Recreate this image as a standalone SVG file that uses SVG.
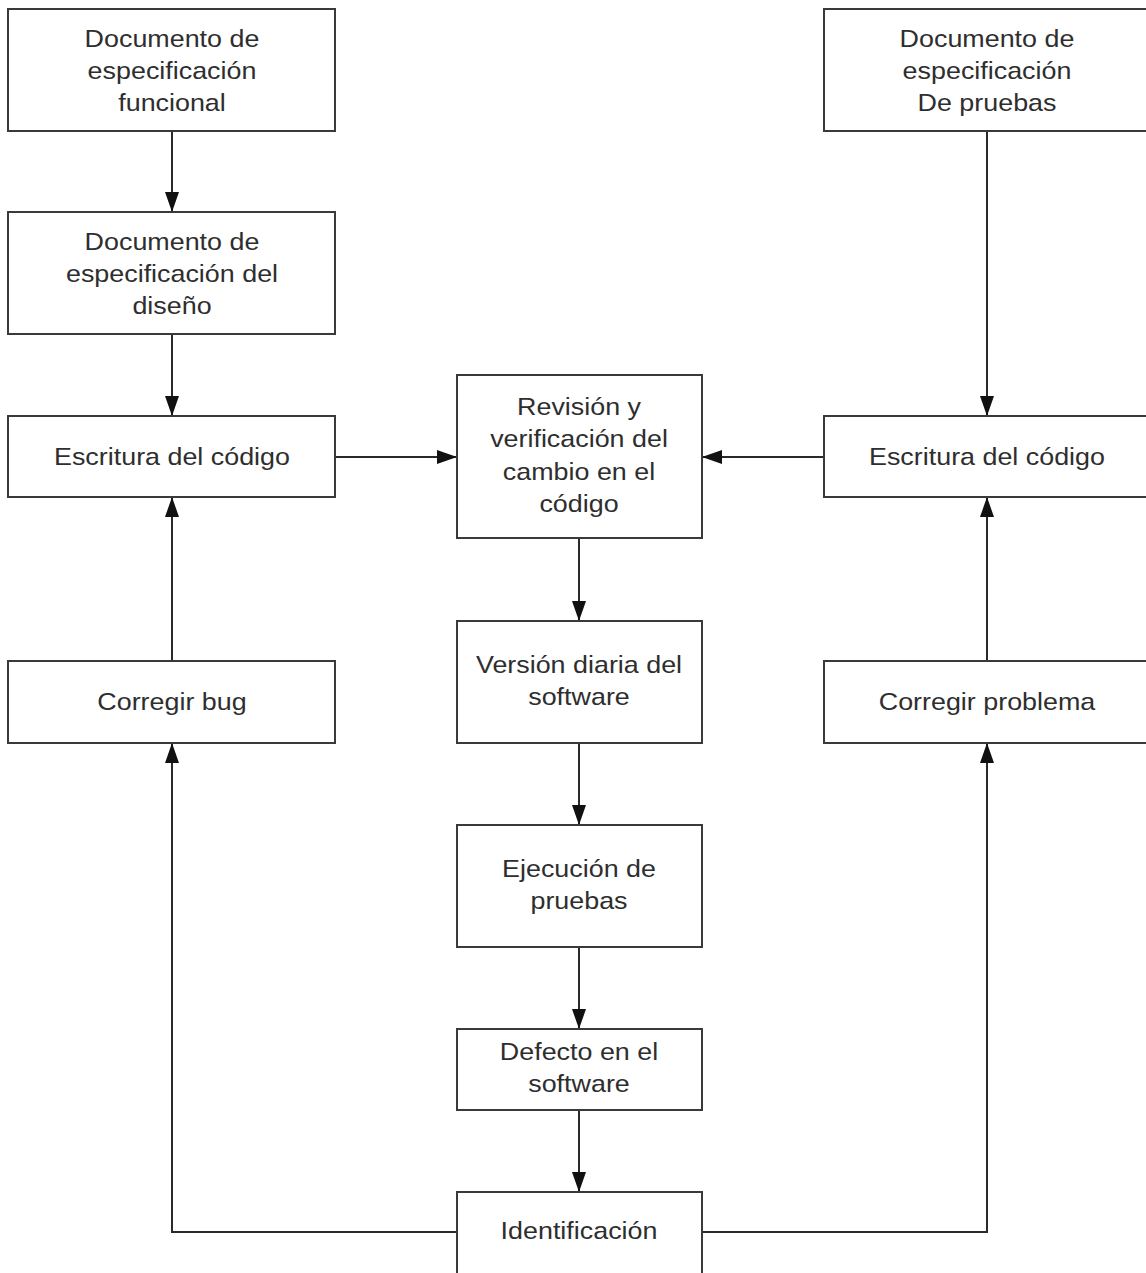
<svg xmlns="http://www.w3.org/2000/svg" width="1146" height="1273" viewBox="0 0 1146 1273">
<style>
.box{fill:#fff;stroke:#3a3a3a;stroke-width:2}
.t{font-family:"Liberation Sans",Arial,sans-serif;font-size:24px;fill:#2e2e2e;text-anchor:middle}
.c{fill:none;stroke:#2a2a2a;stroke-width:2}
</style>
<defs>
<marker id="ah" viewBox="0 0 20 14" refX="20" refY="7" markerWidth="20" markerHeight="14" markerUnits="userSpaceOnUse" orient="auto">
<path d="M0,0 L20,7 L0,14 Z" fill="#111"/>
</marker>
</defs>
<rect width="1146" height="1273" fill="#fff"/>
<g id="connectors">
<line class="c" x1="172" y1="131" x2="172" y2="212" marker-end="url(#ah)"/>
<line class="c" x1="172" y1="334" x2="172" y2="416" marker-end="url(#ah)"/>
<line class="c" x1="335" y1="457" x2="457" y2="457" marker-end="url(#ah)"/>
<line class="c" x1="824" y1="457" x2="702" y2="457" marker-end="url(#ah)"/>
<line class="c" x1="987" y1="131" x2="987" y2="416" marker-end="url(#ah)"/>
<line class="c" x1="172" y1="661" x2="172" y2="497" marker-end="url(#ah)"/>
<line class="c" x1="987" y1="661" x2="987" y2="497" marker-end="url(#ah)"/>
<line class="c" x1="579" y1="538" x2="579" y2="621" marker-end="url(#ah)"/>
<line class="c" x1="579" y1="743" x2="579" y2="825" marker-end="url(#ah)"/>
<line class="c" x1="579" y1="947" x2="579" y2="1029" marker-end="url(#ah)"/>
<line class="c" x1="579" y1="1110" x2="579" y2="1192" marker-end="url(#ah)"/>
<polyline class="c" points="457,1232 172,1232 172,743" marker-end="url(#ah)"/>
<polyline class="c" points="702,1232 987,1232 987,743" marker-end="url(#ah)"/>
</g>
<g id="doc-funcional">
<rect class="box" x="8" y="9" width="327" height="122"/>
<g transform="translate(172,0) scale(1.12,1)"><text class="t" x="0" y="47">Documento de</text><text class="t" x="0" y="79">especificación</text><text class="t" x="0" y="111">funcional</text></g>
</g>
<g id="doc-diseno">
<rect class="box" x="8" y="212" width="327" height="122"/>
<g transform="translate(172,0) scale(1.12,1)"><text class="t" x="0" y="250">Documento de</text><text class="t" x="0" y="282">especificación del</text><text class="t" x="0" y="314">diseño</text></g>
</g>
<g id="escritura-izq">
<rect class="box" x="8" y="416" width="327" height="81"/>
<g transform="translate(172,0) scale(1.12,1)"><text class="t" x="0" y="465">Escritura del código</text></g>
</g>
<g id="corregir-bug">
<rect class="box" x="8" y="661" width="327" height="82"/>
<g transform="translate(172,0) scale(1.12,1)"><text class="t" x="0" y="710">Corregir bug</text></g>
</g>
<g id="doc-pruebas">
<rect class="box" x="824" y="9" width="330" height="122"/>
<g transform="translate(987,0) scale(1.12,1)"><text class="t" x="0" y="47">Documento de</text><text class="t" x="0" y="79">especificación</text><text class="t" x="0" y="111">De pruebas</text></g>
</g>
<g id="escritura-der">
<rect class="box" x="824" y="416" width="330" height="81"/>
<g transform="translate(987,0) scale(1.12,1)"><text class="t" x="0" y="465">Escritura del código</text></g>
</g>
<g id="corregir-problema">
<rect class="box" x="824" y="661" width="330" height="82"/>
<g transform="translate(987,0) scale(1.12,1)"><text class="t" x="0" y="710">Corregir problema</text></g>
</g>
<g id="revision">
<rect class="box" x="457" y="375" width="245" height="163"/>
<g transform="translate(579,0) scale(1.12,1)"><text class="t" x="0" y="415">Revisión y</text><text class="t" x="0" y="447">verificación del</text><text class="t" x="0" y="480">cambio en el</text><text class="t" x="0" y="512">código</text></g>
</g>
<g id="version">
<rect class="box" x="457" y="621" width="245" height="122"/>
<g transform="translate(579,0) scale(1.12,1)"><text class="t" x="0" y="673">Versión diaria del</text><text class="t" x="0" y="705">software</text></g>
</g>
<g id="ejecucion">
<rect class="box" x="457" y="825" width="245" height="122"/>
<g transform="translate(579,0) scale(1.12,1)"><text class="t" x="0" y="877">Ejecución de</text><text class="t" x="0" y="909">pruebas</text></g>
</g>
<g id="defecto">
<rect class="box" x="457" y="1029" width="245" height="81"/>
<g transform="translate(579,0) scale(1.12,1)"><text class="t" x="0" y="1060">Defecto en el</text><text class="t" x="0" y="1092">software</text></g>
</g>
<g id="identificacion">
<rect class="box" x="457" y="1192" width="245" height="82"/>
<g transform="translate(579,0) scale(1.12,1)"><text class="t" x="0" y="1239">Identificación</text></g>
</g>
</svg>
